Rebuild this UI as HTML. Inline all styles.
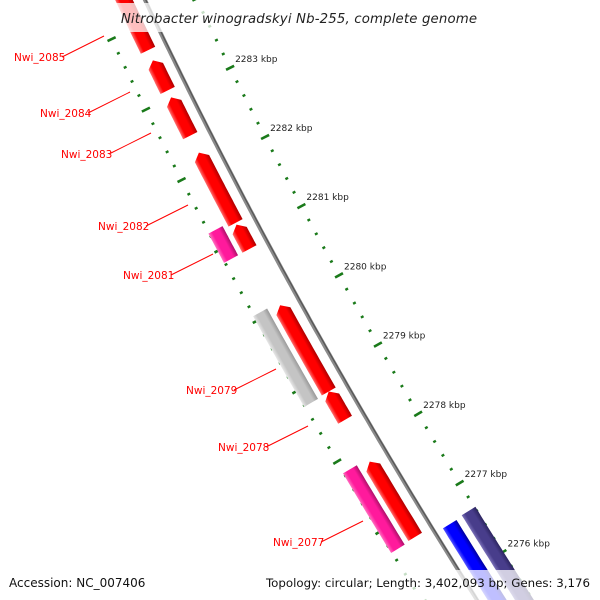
<!DOCTYPE html>
<html><head><meta charset="utf-8"><style>
html,body{margin:0;padding:0;background:#fff;width:600px;height:600px;overflow:hidden;}
svg{display:block;font-family:"DejaVu Sans","Liberation Sans",sans-serif;overflow:hidden;}
</style></head><body>
<svg id="map" width="600" height="600" viewBox="0 0 600 600" xmlns="http://www.w3.org/2000/svg">
<defs></defs>
<g id="ticks"></g>
<path id="backbone" fill="none" stroke="#8a8a8a" stroke-width="4"></path>
<path id="backbone2" fill="none" stroke="#555" stroke-width="1.2"></path>
<g id="genes"></g>
<g id="labels"></g>
<rect x="114" y="3" width="370" height="29" fill="#fff" fill-opacity="0.75"></rect>
<text x="299" y="23" text-anchor="middle" font-size="13.3" font-style="italic" fill="#222" letter-spacing="0.15">Nitrobacter winogradskyi Nb-255, complete genome</text>
<rect x="256" y="570" width="340" height="30" fill="#fff" fill-opacity="0.75"></rect>
<text x="9" y="587" font-size="12" fill="#111">Accession: NC_007406</text>
<text x="590" y="587" text-anchor="end" font-size="11.8" fill="#111">Topology: circular; Length: 3,402,093 bp; Genes: 3,176</text>
</svg>
<script>
const kbpTicks = [2284, 2283, 2282, 2281, 2280, 2279, 2278, 2277, 2276, 2275];
const geneNames = ["Nwi_2085","Nwi_2084","Nwi_2083","Nwi_2082","Nwi_2081a","Nwi_2081","Nwi_2079","Nwi_2079g","Nwi_2078","Nwi_2077r","Nwi_2077","rev_a","rev_b"];
const geneStarts = [2284900,2283525,2282996,2282208,2281180,2281246,2280030,2280072,2278798,2277797,2277840,2276633,2276650];
const geneEnds   = [2283669,2283095,2282451,2281205,2280833,2280830,2278798,2278784,2278395,2276722,2276708,2275300,2275300];
const geneStrand = [1,1,1,1,1,0,1,0,1,1,0,-1,-2];
const geneType   = ["red","red","red","red","red","pink","red","grey","red","red","pink","blue","purple"];
const labelTexts = ["Nwi_2085","Nwi_2084","Nwi_2083","Nwi_2082","Nwi_2081","Nwi_2079","Nwi_2078","Nwi_2077"];
const labelX = [14,40,61,98,123,186,218,273];
const labelY = [61,117,158,230,279,394,451,546];

const NS="http://www.w3.org/2000/svg";
function bbx(y){return 145+0.4728*y+0.0001343*y*y;}
function slope(y){return 0.4728+0.0002686*y;}
function pt(y0,d){const s=slope(y0),n=Math.sqrt(1+s*s);return [bbx(y0)+d/n, y0-d*s/n];}
function bpToY(bp){return 88.7+(2283000-bp)/1000*69.8;}
function mk(tag,attrs){const e=document.createElementNS(NS,tag);for(const k in attrs)e.setAttribute(k,attrs[k]);return e;}

let d="";for(let y=-20;y<=620;y+=5){const p=pt(y,0);d+=(y===-20?"M":"L")+p[0].toFixed(1)+","+p[1].toFixed(1);}
document.getElementById('backbone').setAttribute('d',d);
let d2="";for(let y=-20;y<=620;y+=5){const p=pt(y,0.8);d2+=(y===-20?"M":"L")+p[0].toFixed(1)+","+p[1].toFixed(1);}
document.getElementById('backbone2').setAttribute('d',d2);

const tg=document.getElementById('ticks');
for(let i=0;i<kbpTicks.length-1;i++){
  for(let j=0;j<5;j++){
    const bp=kbpTicks[i]*1000-j*200;
    const y0=bpToY(bp);
    [47,-47].forEach(function(r){
      const major=(j===0);
      const half=major?4.5:1.5;
      const a=pt(y0,r-half),b=pt(y0,r+half);
      const ln=mk('line',{x1:a[0],y1:a[1],x2:b[0],y2:b[1],stroke:'#1a7a1a','stroke-width':major?2.6:2.4});
      
      
      tg.appendChild(ln);
    });
    if(j===0){
      const p=pt(y0,47);
      const t=mk('text',{x:p[0]+5,y:p[1]-6,'font-size':9,fill:'#222'});
      t.textContent=kbpTicks[i]+" kbp";
      
      
      tg.appendChild(t);
    }
  }
}

const colors={red:['#ff7070','#ff0000','#b00000'],pink:['#ff70c0','#ff1a9c','#b0106a'],grey:['#e8e8e8','#c4c4c4','#9a9a9a'],blue:['#5a5aff','#0000ff','#0000a0'],purple:['#7a70b8','#483d8b','#2c2560']};
const offs={1:-19,0:-40,'-1':17,'-2':40};
const defs=document.querySelector('defs');
const gg=document.getElementById('genes');
for(let i=0;i<geneNames.length;i++){
  const yA=bpToY(geneStarts[i]), yB=bpToY(geneEnds[i]);
  const c=offs[geneStrand[i]], w=16, arrow=(geneStrand[i]===1);
  const left=[],right=[];
  const yStart=arrow?yA+6:yA;
  for(let k=0;k<=20;k++){const y=yStart+(yB-yStart)*k/20;left.push(pt(y,c-w/2));right.push(pt(y,c+w/2));}
  let pts=[];
  if(arrow){pts.push(pt(yA,c));}
  pts=pts.concat(right);
  pts=pts.concat(left.slice().reverse());
  const mid=(yA+yB)/2,g1=pt(mid,c-w/2),g2=pt(mid,c+w/2);
  const gid='gr'+i;
  const lg=mk('linearGradient',{id:gid,gradientUnits:'userSpaceOnUse',x1:g1[0],y1:g1[1],x2:g2[0],y2:g2[1]});
  const cs=colors[geneType[i]];
  [[0,cs[0]],[0.25,cs[1]],[0.7,cs[1]],[1,cs[2]]].forEach(function(s){lg.appendChild(mk('stop',{offset:s[0],'stop-color':s[1]}));});
  defs.appendChild(lg);
  const poly=mk('polygon',{points:pts.map(p=>p[0].toFixed(1)+","+p[1].toFixed(1)).join(" "),fill:'url(#'+gid+')'});
  
  
  gg.appendChild(poly);
}

const lgp=document.getElementById('labels');
for(let i=0;i<labelTexts.length;i++){
  const t=mk('text',{x:labelX[i],y:labelY[i],'font-size':10.5,fill:'#ff0000','font-family':'"DejaVu Sans",sans-serif'});
  t.textContent=labelTexts[i];
  
  
  lgp.appendChild(t);
  const x1=labelX[i]+48,y1=labelY[i]-4;
  const ln=mk('line',{x1:x1,y1:y1,x2:x1+42,y2:y1-21,stroke:'#ff0000','stroke-width':1});
  
  
  lgp.appendChild(ln);
}
</script>
</body></html>
